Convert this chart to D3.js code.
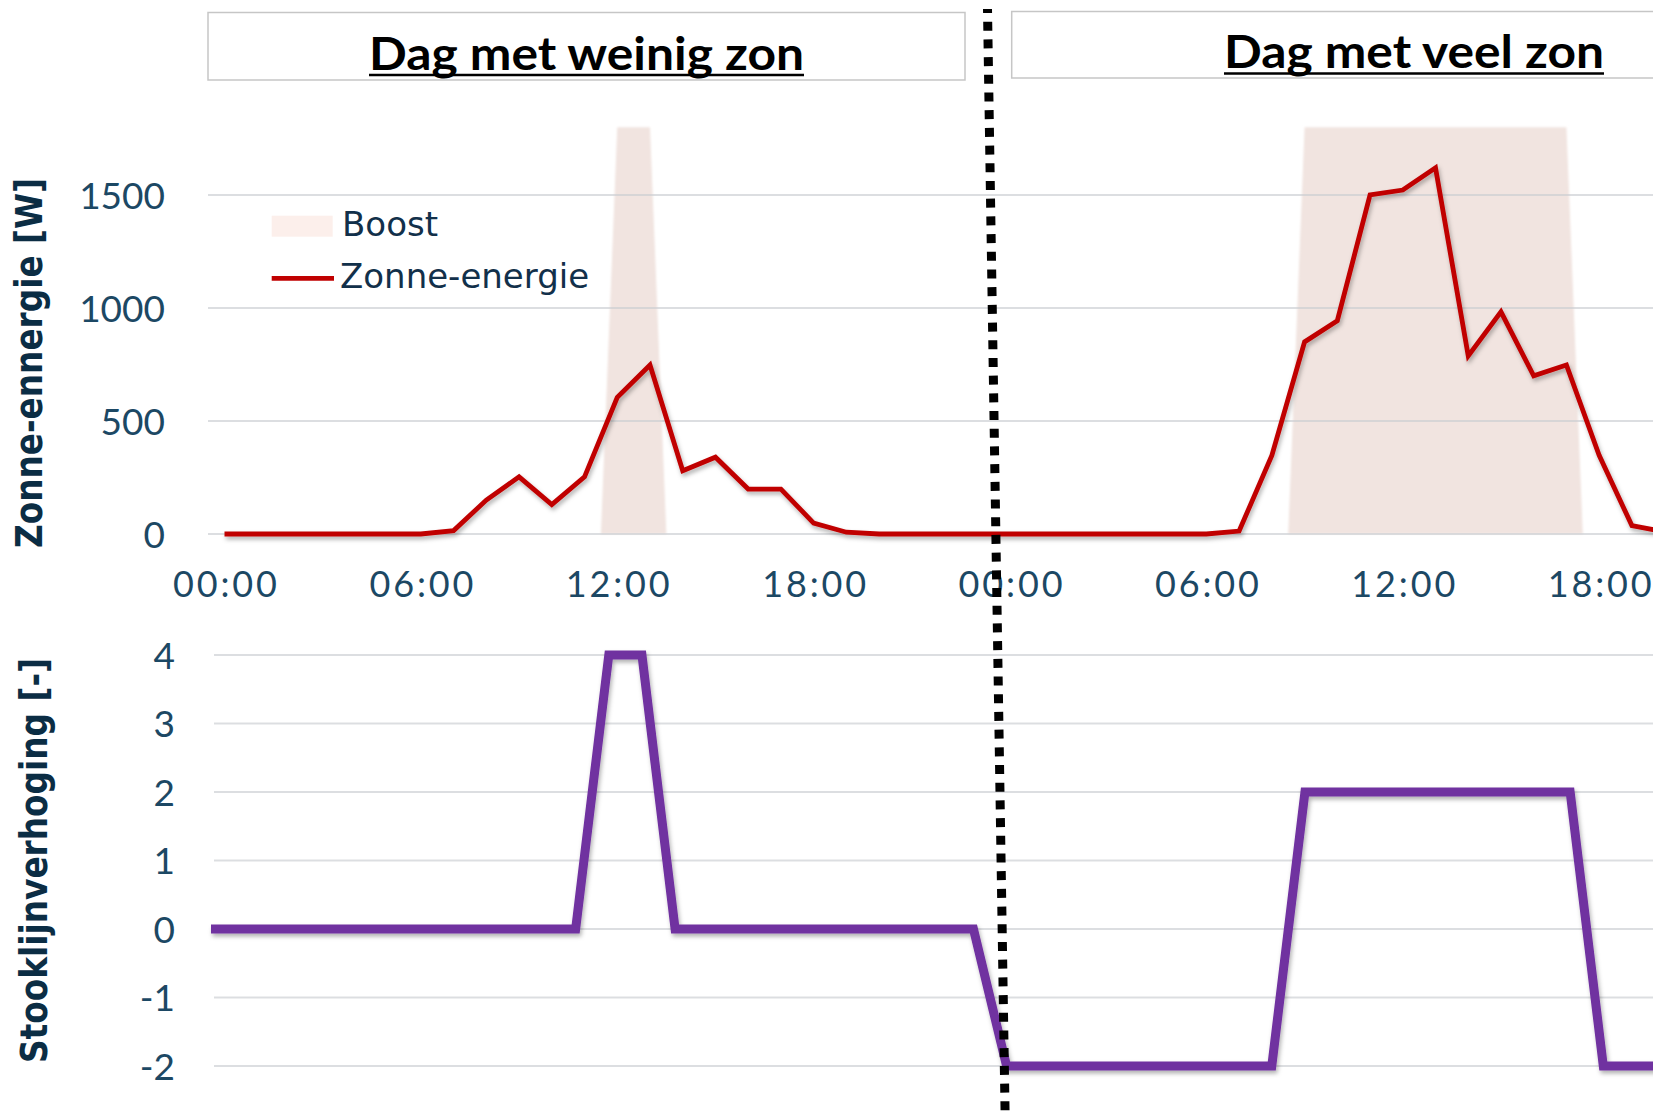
<!DOCTYPE html>
<html><head><meta charset="utf-8">
<script src="https://cdn.jsdelivr.net/npm/d3@7"></script>
<style>html,body{margin:0;padding:0;background:#fff;overflow:hidden}</style>
</head><body><svg id="c" width="1653" height="1117" xmlns="http://www.w3.org/2000/svg"></svg>
<script>
// ---- data ----
const hours = d3.range(0, 48); // hourly index over two days
const solarW = [0,0,0,0,0,0,0,15,150,253,130,253,605,748,280,340,199,199,48,8,0,0,0,0,
                0,0,0,0,0,0,0,13,348,850,944,1500,1522,1620,788,983,700,748,348,37,10,0,0,0];
const stooklijn = [0,0,0,0,0,0,0,0,0,0,0,0,4,4,0,0,0,0,0,0,0,0,0,0,
                   -2,-2,-2,-2,-2,-2,-2,-2,-2,2,2,2,2,2,2,2,2,2,-2,-2,-2,-2,-2,-2];
const boostDay1Hours = [11.5, 12, 13, 13.5];
const boostDay2Hours = [32.5, 33, 41, 41.5];
const boostValues = [0, 1800, 1800, 0];
const xTickHours = [0, 6, 12, 18, 24, 30, 36, 42];
const xTickLabels = ["00:00","06:00","12:00","18:00","00:00","06:00","12:00","18:00"];
const yTopTicks = [0, 500, 1000, 1500];
const yBotTicks = [-2, -1, 0, 1, 2, 3, 4];
const dayTitles = ["Dag met weinig zon", "Dag met veel zon"];
const legendLabels = ["Boost", "Zonne-energie"];
const yTitles = ["Zonne-ennergie [W]", "Stooklijnverhoging [-]"];

// ---- setup ----
const W = 1653, H = 1117;
const svg = d3.select("#c");
const defs = svg.append("defs");
const sh = defs.append("filter").attr("id","shadow").attr("x","-5%").attr("y","-5%").attr("width","110%").attr("height","120%");
sh.append("feDropShadow").attr("dx",1.5).attr("dy",3).attr("stdDeviation",2).attr("flood-color","#000").attr("flood-opacity",0.3);
const soft = defs.append("filter").attr("id","soft").attr("x","-10%").attr("y","-2%").attr("width","120%").attr("height","104%");
soft.append("feGaussianBlur").attr("stdDeviation",1.3);

const xTop = d3.scaleLinear().domain([0, 48]).range([224.5, 224.5 + 32.73 * 48]);
const yTop = d3.scaleLinear().domain([0, 1800]).range([534, 127.2]);
const xBot = d3.scaleLinear().domain([0, 48]).range([211, 211 + 33.15 * 48]);
const yBot = d3.scaleLinear().domain([-2, 4]).range([1066, 655]);

const tickColor = "#1c4864", titleColor = "#0b2d44";

// ---- title boxes ----
const boxes = [{x:208, y:12.5, w:757, h:67.5, cx:586.5, base:69.5, len:435, ul:75},
               {x:1011.7, y:11.5, w:900, h:66.5, cx:1414, base:68, len:380, ul:73.5}];
boxes.forEach((b, i) => {
  svg.append("rect").attr("x", b.x).attr("y", b.y).attr("width", b.w).attr("height", b.h)
    .attr("fill", "#fff").attr("stroke", "#c6c6c6").attr("stroke-width", 1.5);
  svg.append("text").attr("x", b.cx).attr("y", b.base).attr("text-anchor", "middle")
    .attr("font-family", "Lato, sans-serif").attr("font-weight", 700).attr("font-size", 45)
    .attr("textLength", b.len).attr("lengthAdjust", "spacingAndGlyphs")
    .attr("fill", "#000").text(dayTitles[i]);
  svg.append("line").attr("x1", b.cx - b.len/2).attr("x2", b.cx + b.len/2)
    .attr("y1", b.ul).attr("y2", b.ul).attr("stroke", "#000").attr("stroke-width", 2.5);
});

// ---- top panel ----
const gTop = svg.append("g");
const boostArea = d3.area().x(d => xTop(d[0])).y0(yTop(0)).y1(d => yTop(d[1]));
[boostDay1Hours, boostDay2Hours].forEach(hs => {
  gTop.append("path").datum(hs.map((h, i) => [h, boostValues[i]]))
    .attr("d", boostArea).attr("fill", "#f1e4e0").attr("filter", "url(#soft)");
});
gTop.selectAll("line.grid").data(yTopTicks).join("line").attr("class","grid")
  .attr("x1", 208).attr("x2", W).attr("y1", d => yTop(d)).attr("y2", d => yTop(d))
  .attr("stroke", "#c9cdd1").attr("stroke-opacity", 0.65).attr("stroke-width", 2);
const yAxT = gTop.append("g").attr("transform", "translate(165,0)")
  .call(d3.axisLeft(yTop).tickValues(yTopTicks).tickSize(0).tickPadding(0).tickFormat(d3.format("d")));
yAxT.select(".domain").remove();
yAxT.selectAll("text").attr("font-family", "Lato, sans-serif").attr("font-size", 37)
  .attr("fill", tickColor).attr("dy", "0.36em");
const xAx = gTop.append("g")
  .call(d3.axisBottom(xTop).tickValues(xTickHours).tickFormat((d, i) => xTickLabels[i]).tickSize(0));
xAx.select(".domain").remove();
xAx.selectAll("text").attr("y", 597).attr("dy", 0).attr("font-family", "Lato, sans-serif")
  .attr("font-size", 36).attr("fill", tickColor)
  .attr("textLength", 104).attr("lengthAdjust", "spacing");
const solarLine = d3.line().x((d, i) => xTop(hours[i])).y(d => yTop(d));
gTop.append("path").datum(solarW).attr("d", solarLine).attr("fill", "none")
  .attr("stroke", "#c00000").attr("stroke-width", 4.8).attr("stroke-linejoin", "miter")
  .attr("filter", "url(#shadow)");

// legend
const lg = svg.append("g");
lg.append("rect").attr("x", 271.7).attr("y", 215.7).attr("width", 61).attr("height", 21).attr("fill", "#fcefeb");
lg.append("line").attr("x1", 271.7).attr("x2", 334).attr("y1", 278.3).attr("y2", 278.3)
  .attr("stroke", "#c00000").attr("stroke-width", 4.8);
lg.append("text").attr("x", 342).attr("y", 235.7).text(legendLabels[0]);
lg.append("text").attr("x", 340).attr("y", 288).text(legendLabels[1]);
lg.selectAll("text").attr("font-family", "'DejaVu Sans', sans-serif").attr("font-size", 34).attr("fill", "#12304a");

// ---- bottom panel ----
const gBot = svg.append("g");
gBot.selectAll("line.grid").data(yBotTicks).join("line").attr("class","grid")
  .attr("x1", 214).attr("x2", W).attr("y1", d => yBot(d)).attr("y2", d => yBot(d))
  .attr("stroke", "#c9cdd1").attr("stroke-opacity", 0.65).attr("stroke-width", 2);
const yAxB = gBot.append("g").attr("transform", "translate(175,0)")
  .call(d3.axisLeft(yBot).tickValues(yBotTicks).tickSize(0).tickPadding(0).tickFormat(d => String(d)));
yAxB.select(".domain").remove();
yAxB.selectAll("text").attr("font-family", "Lato, sans-serif").attr("font-size", 37)
  .attr("fill", tickColor).attr("dy", "0.36em");
const stookLine = d3.line().x((d, i) => xBot(hours[i])).y(d => yBot(d));
gBot.append("path").datum(stooklijn).attr("d", stookLine).attr("fill", "none")
  .attr("stroke", "#7030a0").attr("stroke-width", 9).attr("stroke-linejoin", "miter")
  .attr("filter", "url(#shadow)");

// ---- axis titles ----
const titles = [{x:42, y:363, len:370}, {x:47, y:860.5, len:405}];
titles.forEach((t, i) => {
  svg.append("text").attr("transform", `translate(${t.x},${t.y}) rotate(-90)`)
    .attr("text-anchor", "middle").attr("font-family", "'DejaVu Sans', sans-serif")
    .attr("font-weight", 700).attr("font-size", 36.5)
    .attr("textLength", t.len).attr("lengthAdjust", "spacingAndGlyphs")
    .attr("fill", titleColor).text(yTitles[i]);
});

// ---- dotted divider ----
svg.append("line").attr("x1", 987.5).attr("y1", 9).attr("x2", 1005.2).attr("y2", 1120)
  .attr("stroke", "#000").attr("stroke-width", 9).attr("stroke-dasharray", "9 8.7")
  .attr("stroke-dashoffset", 5);
</script></body></html>
